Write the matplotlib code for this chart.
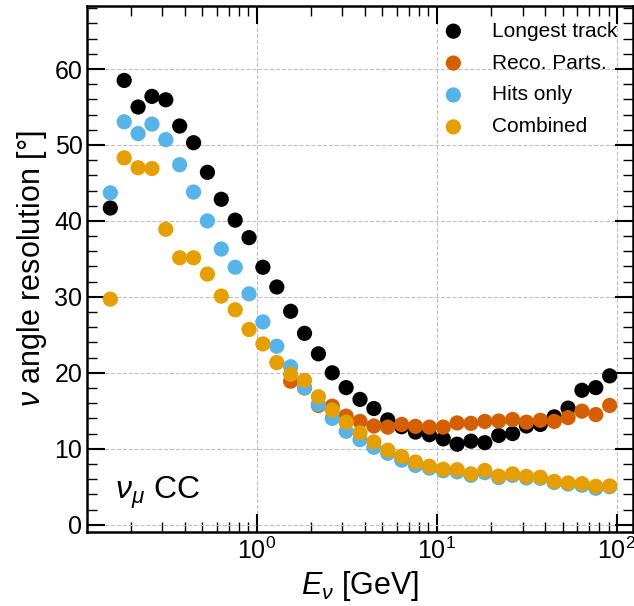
import numpy as np
import matplotlib
matplotlib.use("Agg")
import matplotlib.pyplot as plt
from matplotlib.ticker import MultipleLocator, LogLocator

plt.rcParams['font.family'] = ['Liberation Sans', 'DejaVu Sans']
plt.rcParams['mathtext.fontset'] = 'custom'
plt.rcParams['mathtext.rm'] = 'Liberation Sans'
plt.rcParams['mathtext.it'] = 'Liberation Sans:italic'
plt.rcParams['mathtext.bf'] = 'Liberation Sans:bold'

energy = [0.1543, 0.1843, 0.2201, 0.2627, 0.3136, 0.3745, 0.4472, 0.5340, 0.6374,
          0.7612, 0.9089, 1.085, 1.296, 1.547, 1.847, 2.206, 2.633, 3.144, 3.754,
          4.482, 5.352, 6.390, 7.629, 9.110, 10.88, 12.99, 15.50, 18.51, 22.10,
          26.39, 31.51, 37.62, 44.92, 53.63, 64.03, 76.45, 91.28]

longest_track = [41.7, 58.5, 55.0, 56.4, 55.95, 52.5, 50.3, 46.4, 42.85, 40.1, 37.8,
                 33.9, 31.3, 28.1, 25.2, 22.5, 20.0, 18.05, 16.5, 15.3, 13.8, 12.9,
                 12.2, 11.85, 11.3, 10.6, 11.0, 10.8, 11.75, 12.0, 13.0, 13.2, 14.2,
                 15.35, 17.7, 18.05, 19.6]

reco_parts = [None] * 13 + [18.9, 18.0, 15.7, 15.6, 14.3, 13.6, 13.0, 12.85, 13.2,
                            12.95, 12.85, 12.85, 13.4, 13.35, 13.6, 13.65, 13.85,
                            13.5, 13.75, 13.6, 14.1, 14.95, 14.5, 15.7]

hits_only = [43.7, 53.05, 51.5, 52.75, 50.7, 47.4, 43.8, 40.0, 36.3, 33.9, 30.4,
             26.7, 23.5, 20.8, 18.05, 15.85, 14.0, 12.3, 11.2, 10.2, 9.4, 8.5, 7.8,
             7.45, 7.1, 6.95, 6.5, 6.85, 6.2, 6.5, 6.15, 6.1, 5.55, 5.35, 5.2, 4.8, 5.0]

combined = [29.7, 48.3, 47.0, 46.9, 38.9, 35.15, 35.15, 33.0, 30.1, 28.3, 25.7,
            23.8, 21.35, 19.8, 19.0, 16.85, 15.1, 13.5, 12.1, 10.9, 9.8, 9.0, 8.25,
            7.7, 7.3, 7.25, 6.7, 7.15, 6.4, 6.7, 6.35, 6.25, 5.7, 5.5, 5.4, 5.05, 5.1]

series_names = ["Longest track", "Reco. Parts.", "Hits only", "Combined"]
series_colors = ["#000000", "#D55E00", "#56B4E9", "#E69F00"]

fig = plt.figure(figsize=(6.34, 6.06), dpi=100)
ax = fig.add_axes([87.3 / 634, 1 - 532.3 / 606, (633 - 87.3) / 634, (532.3 - 6) / 606])

for name, col, vals in zip(series_names, series_colors,
                           [longest_track, reco_parts, hits_only, combined]):
    xs = [e for e, v in zip(energy, vals) if v is not None]
    ys = [v for v in vals if v is not None]
    ax.scatter(xs, ys, s=120, color=col, label=name, edgecolors='none', zorder=3)

ax.set_xscale('log')
ax.set_xlim(0.115, 123)
ax.set_ylim(-1, 68.3)
ax.yaxis.set_major_locator(MultipleLocator(10))
ax.yaxis.set_minor_locator(MultipleLocator(2))
ax.xaxis.set_major_locator(LogLocator(base=10))
ax.xaxis.set_minor_locator(LogLocator(base=10, subs=np.arange(2, 10)))

ax.grid(True, which='major', linestyle='--', color='#c0c0c0', linewidth=0.8, zorder=0)
ax.set_axisbelow(True)

ax.tick_params(which='both', direction='in', top=True, right=True, labelsize=18)
ax.tick_params(which='major', length=13, width=1.5)
ax.tick_params(which='minor', length=7, width=1.0)
for sp in ax.spines.values():
    sp.set_linewidth(1.8)

ax.set_xlabel(r"$E_\nu$ [GeV]", fontsize=22)
ax.set_ylabel(r"$\nu$ angle resolution [°]", fontsize=22)

ax.text(0.05, 0.04, r"$\nu_\mu$ CC", transform=ax.transAxes, fontsize=23,
        ha='left', va='bottom')

ax.legend(loc='upper right', frameon=False, fontsize=15, handletextpad=0.85,
          labelspacing=0.62, borderaxespad=0.35, borderpad=0.4, markerscale=1.0)

fig.savefig("out.png", dpi=100)
